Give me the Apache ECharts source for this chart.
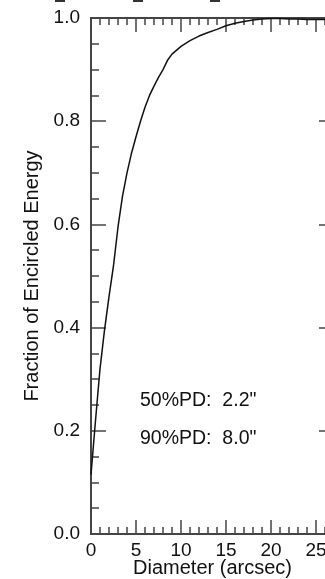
<!DOCTYPE html>
<html>
<head>
<meta charset="utf-8">
<script src="https://cdn.jsdelivr.net/npm/echarts@6/dist/echarts.min.js"></script>
<style>
  html, body { margin: 0; padding: 0; background: #fff; }
  #chartDoms { width: 325px; height: 579px; }
</style>
</head>
<body>
<div id="chartDoms"></div>
<script>
// diameter (arcsec) and encircled energy fraction
const diameter = [0, 0.5, 1, 1.5, 2, 2.5, 3, 3.5, 4, 4.5, 5, 5.5, 6, 6.5, 7, 7.5, 8, 8.5, 9,
  10, 11, 12, 13, 14, 15, 16, 17, 18, 19, 20, 21, 22, 23, 24, 25, 26, 27];
const energy = [0.115, 0.22, 0.32, 0.395, 0.46, 0.52, 0.595, 0.655, 0.70, 0.738, 0.77, 0.80, 0.827, 0.85, 0.868, 0.885, 0.90, 0.918, 0.93,
  0.945, 0.956, 0.965, 0.972, 0.978, 0.985, 0.99, 0.993, 0.996, 0.998, 0.999, 0.999, 0.998, 0.998, 0.997, 0.997, 0.997, 0.997];
const notes = ['50%PD:  2.2"', '90%PD:  8.0"'];

const fontFam = 'Liberation Sans, Arial, sans-serif';
const axisColor = '#444';
const textColor = '#111';

const myChart = echarts.init(document.getElementById('chartDoms'));

// helper for the stacked axes (major / minor ticks drawn by separate axes)
function xAx(pos, interval, len, extra) {
  return Object.assign({
    type: 'value', position: pos, min: 0, max: 27, interval: interval,
    axisLine: { show: true, onZero: false, lineStyle: { color: axisColor, width: 1.8 } },
    axisTick: { show: true, inside: true, length: len, lineStyle: { color: axisColor, width: 1.5 } },
    axisLabel: { show: false },
    splitLine: { show: false }
  }, extra || {});
}
function yAx(pos, interval, len, extra) {
  return Object.assign({
    type: 'value', position: pos, min: 0, max: 1, interval: interval,
    axisLine: { show: true, onZero: false, lineStyle: { color: axisColor, width: 1.8 } },
    axisTick: { show: true, inside: true, length: len, lineStyle: { color: axisColor, width: 1.5 } },
    axisLabel: { show: false },
    splitLine: { show: false }
  }, extra || {});
}

myChart.setOption({
  animation: false,
  backgroundColor: '#fff',
  textStyle: { fontFamily: fontFam, color: textColor },
  grid: { left: 91, top: 18, width: 243, bottom: 45, containLabel: false, outerBoundsMode: 'none' },
  xAxis: [
    xAx('bottom', 5, 14, {
      name: 'Diameter (arcsec)',
      nameLocation: 'middle',
      nameGap: 24,
      nameMoveOverlap: false,
      nameTextStyle: { fontSize: 20, color: textColor, fontFamily: fontFam },
      axisLabel: {
        show: true, fontSize: 19, color: textColor, fontFamily: fontFam, margin: 7,
        formatter: (v) => (v % 5 === 0 ? String(v) : '')
      }
    }),
    xAx('bottom', 1, 7),
    xAx('top', 5, 14),
    xAx('top', 1, 7)
  ],
  yAxis: [
    yAx('left', 0.2, 15, {
      name: 'Fraction of Encircled Energy',
      nameLocation: 'middle',
      nameGap: 48,
      nameTextStyle: { fontSize: 20, color: textColor, fontFamily: fontFam },
      axisLabel: {
        show: true, fontSize: 19, color: textColor, fontFamily: fontFam, margin: 11,
        formatter: (v) => v.toFixed(1)
      }
    }),
    yAx('left', 0.05, 8),
    yAx('right', 0.2, 15),
    yAx('right', 0.05, 8)
  ],
  series: [
    {
      type: 'line',
      xAxisIndex: 0,
      yAxisIndex: 0,
      data: diameter.map((d, i) => [d, energy[i]]),
      showSymbol: false,
      lineStyle: { color: '#111', width: 1.5 }
    }
  ],
  graphic: [
    { type: 'text', left: 140, top: 391, style: { text: notes[0], fontSize: 19.5, fontFamily: fontFam, fill: textColor } },
    { type: 'text', left: 140, top: 429, style: { text: notes[1], fontSize: 19.5, fontFamily: fontFam, fill: textColor } },
    // clipped marks left over at the top edge
    { type: 'rect', shape: { x: 55, y: 0, width: 10, height: 2 }, style: { fill: '#333' } },
    { type: 'rect', shape: { x: 133, y: 0, width: 10, height: 2 }, style: { fill: '#333' } },
    { type: 'rect', shape: { x: 210, y: 0, width: 10, height: 2 }, style: { fill: '#333' } }
  ]
});
</script>
</body>
</html>
